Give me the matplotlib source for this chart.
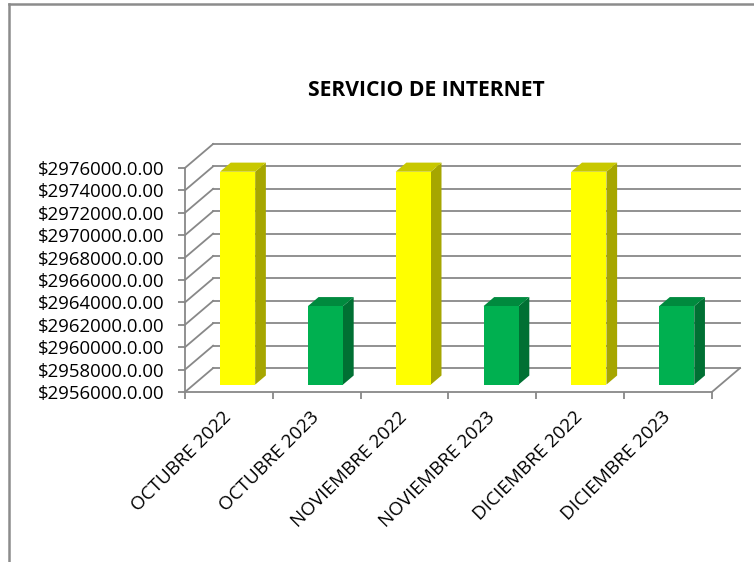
import matplotlib
matplotlib.use("Agg")
import matplotlib.pyplot as plt
from matplotlib.patches import Polygon
import numpy as np

categories = ["OCTUBRE 2022", "OCTUBRE 2023", "NOVIEMBRE 2022",
              "NOVIEMBRE 2023", "DICIEMBRE 2022", "DICIEMBRE 2023"]
values = [2975000, 2963000, 2975000, 2963000, 2975000, 2963000]
tick_values = list(range(2956000, 2976001, 2000))
tick_labels = ["$%d.0.00" % v for v in tick_values]
title = "SERVICIO DE INTERNET"

# colours (front, top, side)
YELLOW = ("#FFFF00", "#C8C800", "#A6A600")
GREEN = ("#00B050", "#008A3E", "#007033")
bar_colors = [YELLOW, GREEN] * 3
GRID = "#888888"

YMIN, YMAX = tick_values[0], tick_values[-1]
# oblique depth of the plot box, in data units
DX = 0.32
DY = 2133
# bars sit in the middle of the depth
F0, F1 = 0.31, 0.69
W = 0.40

plt.rcParams["font.family"] = ["Open Sans", "DejaVu Sans"]

fig = plt.figure(figsize=(7.54, 5.62), dpi=100)
ax = fig.add_axes([185 / 754, 170 / 562, 555 / 754, 248 / 562])
ax.set_xlim(-0.5, len(categories) - 0.5 + DX)
ax.set_ylim(YMIN, YMAX + DY)
ax.patch.set_visible(False)

x0 = -0.5
x_end = len(categories) - 0.5

# back wall gridlines + side wall diagonals
for v in tick_values:
    ax.plot([x0 + DX, x_end + DX], [v + DY, v + DY], color=GRID, lw=1.3,
            clip_on=False, zorder=1)
    ax.plot([x0, x0 + DX], [v, v + DY], color=GRID, lw=1.3,
            clip_on=False, zorder=1)
# floor right edge
ax.plot([x_end, x_end + DX], [YMIN, YMIN + DY], color=GRID, lw=1.3,
        clip_on=False, zorder=1)

# bars: front face through ax.bar, top and side as polygons
xs = np.arange(len(categories))
fronts = [c[0] for c in bar_colors]
ax.bar(xs + F0 * DX, [v - YMIN for v in values], bottom=YMIN + F0 * DY,
       width=W, color=fronts, zorder=3, clip_on=False)
dd_x = (F1 - F0) * DX
for i, v in enumerate(values):
    xl = i + F0 * DX - W / 2
    xr = i + F0 * DX + W / 2
    yb = YMIN + F0 * DY
    yt = v + F0 * DY
    side = Polygon([(xr, yb), (xr + dd_x, yb + (F1 - F0) * DY),
                    (xr + dd_x, yt + (F1 - F0) * DY), (xr, yt)],
                   closed=True, fc=bar_colors[i][2], ec="none", zorder=2,
                   clip_on=False)
    top = Polygon([(xl, yt), (xr, yt), (xr + dd_x, yt + (F1 - F0) * DY),
                   (xl + dd_x, yt + (F1 - F0) * DY)],
                  closed=True, fc=bar_colors[i][1], ec="none", zorder=2,
                  clip_on=False)
    ax.add_patch(side)
    ax.add_patch(top)

# axes
for s in ["top", "right"]:
    ax.spines[s].set_visible(False)
ax.spines["left"].set_bounds(YMIN, YMAX)
ax.spines["bottom"].set_bounds(x0, x_end)
for s in ["left", "bottom"]:
    ax.spines[s].set_color(GRID)
    ax.spines[s].set_linewidth(1.3)

ax.set_yticks(tick_values)
ax.set_yticklabels(tick_labels, fontsize=13.4, color="black")
ax.tick_params(axis="y", length=5, width=1.3, color=GRID, pad=10)

ax.set_xticks(xs)
ax.set_xticklabels(categories, fontsize=13.6, rotation=45, ha="right",
                   va="center", rotation_mode="anchor")
ax.tick_params(axis="x", which="major", length=0, pad=16)
ax.set_xticks(np.arange(-0.5, len(categories)), minor=True)
ax.tick_params(axis="x", which="minor", length=5, width=1.3, color=GRID)

fig.text(426 / 754, 1 - 91 / 562, title, ha="center", va="center",
         fontsize=15.2, fontweight="bold")

# chart area border (top and left edges)
fig.add_artist(plt.Line2D([9 / 754, 9 / 754], [0, 1 - 4 / 562],
                          color="#8c8c8c", lw=1.8))
fig.add_artist(plt.Line2D([9 / 754, 1], [1 - 4 / 562, 1 - 4 / 562],
                          color="#8c8c8c", lw=1.8))

fig.savefig("out.png", dpi=100)
